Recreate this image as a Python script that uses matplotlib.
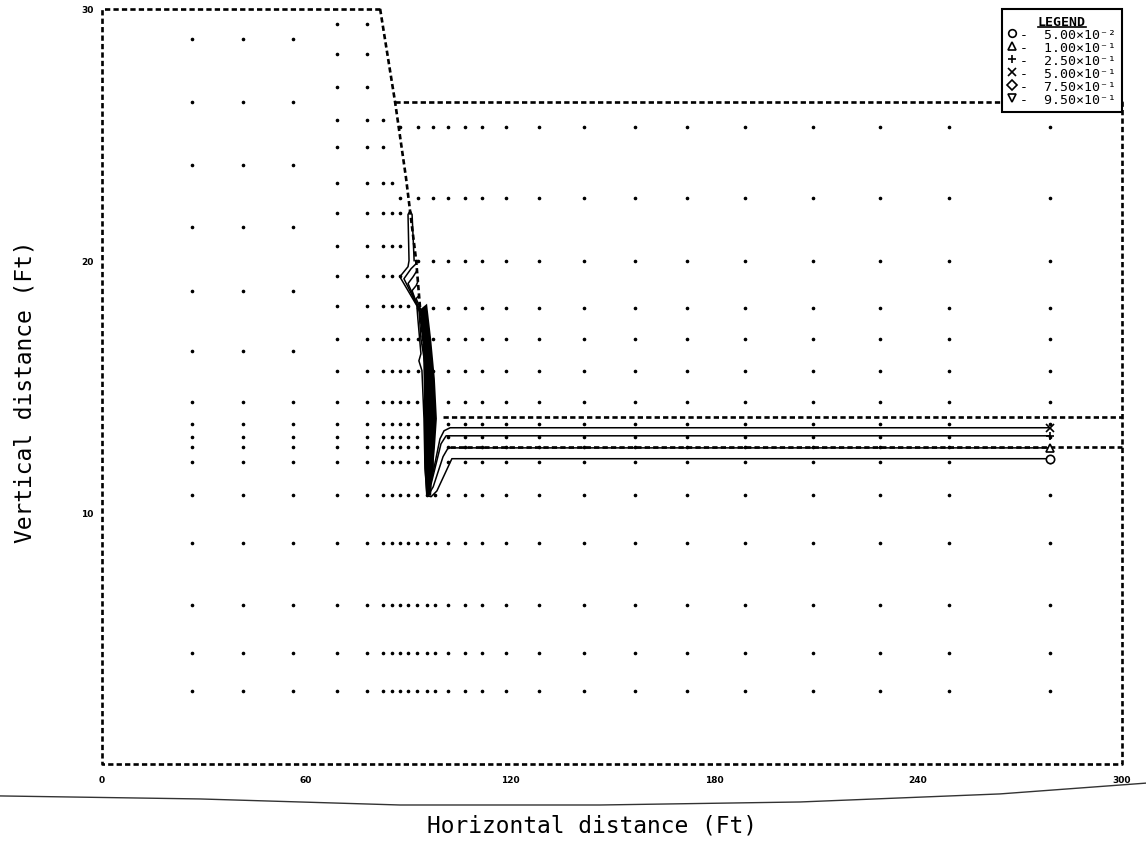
import numpy as np
import matplotlib.pyplot as plt
from matplotlib.lines import Line2D

MONO = ['DejaVu Sans Mono', 'DejaVu Sans']

# section outline (ft)
outer_x = [81.8, 0.0, 0.0, 300.0, 300.0, 86.2]
outer_y = [30.0, 30.0, 0.0, 0.0, 26.3, 26.3]
face_x = [81.8, 86.2, 89.4, 92.4, 93.5, 95.3, 95.9, 96.2]
face_y = [30.0, 26.3, 23.3, 20.0, 18.2, 15.7, 13.7, 10.7]
layer_x0 = [100.3, 102.4]
layer_y = [13.8, 12.6]

# mesh node columns and rows (ft)
cols_a = [26.5, 41.5, 56.2]
rows_a = [28.8, 26.3, 23.8, 21.35, 18.8, 16.4]
cols_b = [69.1, 77.9]
rows_b = [29.4, 28.2, 26.9, 25.6, 24.5, 23.1, 21.9, 20.6, 19.4, 18.2, 16.9, 15.6]
cols_face = [82.6, 85.3, 87.6, 90.0, 92.6]
cols_toe = [95.6, 97.9]
cols_right = [87.6, 93.0, 97.4, 101.8, 106.8, 111.8, 118.8, 128.5, 141.8,
              156.8, 172.1, 189.1, 209.1, 228.8, 249.1, 278.8]
rows_right = [25.3, 22.5, 20.0, 18.1, 16.9, 15.6]
rows_mid = [14.4, 13.5, 13.0, 12.6, 12.0]
rows_low = [10.7, 8.8, 6.3, 4.4, 2.9]

# contour lines, first point is the labelled end
c1_x = [278.8, 102.9, 98.5, 96.8, 95.6, 95.0, 94.7, 94.1, 93.2, 93.8, 92.9, 92.6,
        87.6, 90.0, 90.3, 90.0, 90.6, 91.2, 91.8]
c1_y = [12.13, 12.13, 10.85, 10.62, 10.66, 11.73, 13.72, 15.63, 16.02, 16.30, 17.69,
        18.21, 19.36, 19.76, 20.00, 21.83, 21.99, 21.83, 20.00]
c2_x = [278.8, 101.8, 100.3, 97.4, 96.5, 95.9, 95.6, 95.3, 93.8, 93.2, 88.8, 90.9, 92.4]
c2_y = [12.56, 12.56, 12.21, 11.01, 10.81, 10.93, 13.32, 15.63, 16.90, 18.09, 19.28,
        19.68, 19.88]
c3_x = [278.8, 101.2, 99.7, 97.9, 96.8, 96.5, 96.2, 94.7, 93.5, 90.0, 91.5, 92.6]
c3_y = [13.04, 13.04, 12.72, 11.73, 11.13, 12.92, 14.91, 17.30, 18.01, 19.09, 19.36, 19.60]
c4_x = [278.8, 102.4, 100.6, 99.4, 98.2, 97.1, 96.8, 95.9, 95.0, 93.5, 91.2, 92.4, 92.9]
c4_y = [13.36, 13.36, 13.24, 12.92, 12.13, 11.41, 13.72, 15.71, 17.50, 17.93, 18.81,
        19.01, 19.17]
c5_x = [97.4, 97.1, 96.5, 95.6, 94.4, 92.4, 93.2]
c5_y = [11.73, 13.72, 15.71, 17.30, 17.85, 18.49, 18.61]
c6_x = [97.6, 97.4, 96.8, 95.9]
c6_y = [12.92, 14.51, 16.10, 17.30]
band_x = [93.8, 95.6, 96.8, 97.9, 98.5, 97.9, 97.1, 96.8, 95.3, 94.7, 94.7, 94.4, 93.5]
band_y = [18.09, 18.29, 16.90, 15.31, 13.72, 12.52, 11.33, 10.66, 10.66, 12.13, 14.51,
          16.50, 17.69]

levels = ['5.00×10⁻²', '1.00×10⁻¹', '2.50×10⁻¹', '5.00×10⁻¹', '7.50×10⁻¹', '9.50×10⁻¹']
markers = ['o', '^', '+', 'x', 'D', 'v']

# edge of the scanned sheet
sheet_x = [-30.0, 28.8, 87.6, 146.5, 205.3, 264.1, 307.1]
sheet_y = [-1.27, -1.39, -1.63, -1.63, -1.51, -1.19, -0.76]

xticks = [0, 60, 120, 180, 240, 300]
yticks = [10, 20, 30]


def face_at(y):
    return np.interp(y, face_y[::-1], face_x[::-1])


node_x, node_y = [], []


def add_nodes(cols, rows, keep=lambda x, y: True):
    for y in rows:
        for x in cols:
            if keep(x, y):
                node_x.append(x)
                node_y.append(y)


add_nodes(cols_a, rows_a + rows_mid + rows_low)
add_nodes(cols_b, rows_b + rows_mid + rows_low)
add_nodes(cols_face, rows_b + rows_mid, lambda x, y: x <= face_at(y) - 3.05)
add_nodes(cols_face + cols_toe, rows_low)
add_nodes(cols_right, rows_right, lambda x, y: x >= face_at(y) - 3.0)
add_nodes([c for c in cols_right if c > 100], rows_mid + rows_low)

fig = plt.figure(figsize=(11.46, 8.53), dpi=100)
ax = fig.add_axes([0.089, 0.1032, 0.8901, 0.8851])
ax.set_xlim(0, 300)
ax.set_ylim(0, 30)
for s in ax.spines.values():
    s.set_visible(False)

dash = dict(color='k', lw=1.9, ls=(0, (2.0, 1.2)), clip_on=False)
ax.plot(outer_x, outer_y, **dash)
ax.plot(face_x, face_y, **dash)
for x0, y in zip(layer_x0, layer_y):
    ax.plot([x0, 300.0], [y, y], **dash)

ax.plot(node_x, node_y, ls='none', marker='o', ms=1.6, color='k')

ax.fill(band_x, band_y, color='k', lw=0)
contours = [(c1_x, c1_y), (c2_x, c2_y), (c3_x, c3_y), (c4_x, c4_y), (c5_x, c5_y), (c6_x, c6_y)]
for i, (cx, cy) in enumerate(contours):
    if i < 4:
        ax.plot(cx, cy, color='k', lw=1.1, marker=markers[i], markevery=[0], ms=6,
                mfc='white', mec='k', mew=1.2)
    else:
        ax.plot(cx, cy, color='k', lw=1.1)

ax.plot(sheet_x, sheet_y, color='#333333', lw=1.0, clip_on=False)

ax.set_xticks(xticks)
ax.set_xticklabels([str(t) for t in xticks])
ax.set_yticks(yticks)
ax.set_yticklabels([str(t) for t in yticks])
ax.tick_params(length=0, labelsize=6.5)
ax.tick_params(axis='x', pad=8)
ax.tick_params(axis='y', pad=6)
for lbl in ax.get_xticklabels() + ax.get_yticklabels():
    lbl.set_fontweight('bold')

ax.set_xlabel('Horizontal distance (Ft)', fontsize=16.5, family=MONO)
ax.xaxis.set_label_coords(0.48, -0.066)
ax.set_ylabel('Vertical distance (Ft)', fontsize=16.5, family=MONO)
ax.yaxis.set_label_coords(-0.064, 0.495)

handles = [Line2D([], [], ls='none', marker=m, ms=5.5, mfc='none', mec='k', mew=1.2)
           for m in markers]
leg = ax.legend(handles, ['-  ' + v for v in levels], title='LEGEND', loc='upper right',
                bbox_to_anchor=(1.0, 1.0), borderaxespad=0, fancybox=False,
                edgecolor='k', framealpha=1, handlelength=0.6, handletextpad=0.35,
                borderpad=0.45, labelspacing=0.0, prop={'family': MONO, 'size': 9.5},
                title_fontproperties={'family': MONO, 'size': 9.5, 'weight': 'bold'})
leg.get_frame().set_linewidth(1.5)
leg.set_zorder(5)

fig.canvas.draw()
tb = leg.get_title().get_window_extent().transformed(fig.transFigure.inverted())
fig.add_artist(Line2D([tb.x0, tb.x1], [tb.y0 + 0.001, tb.y0 + 0.001], color='k', lw=1.2,
                      transform=fig.transFigure, zorder=6))

fig.savefig('out.png', dpi=100)
